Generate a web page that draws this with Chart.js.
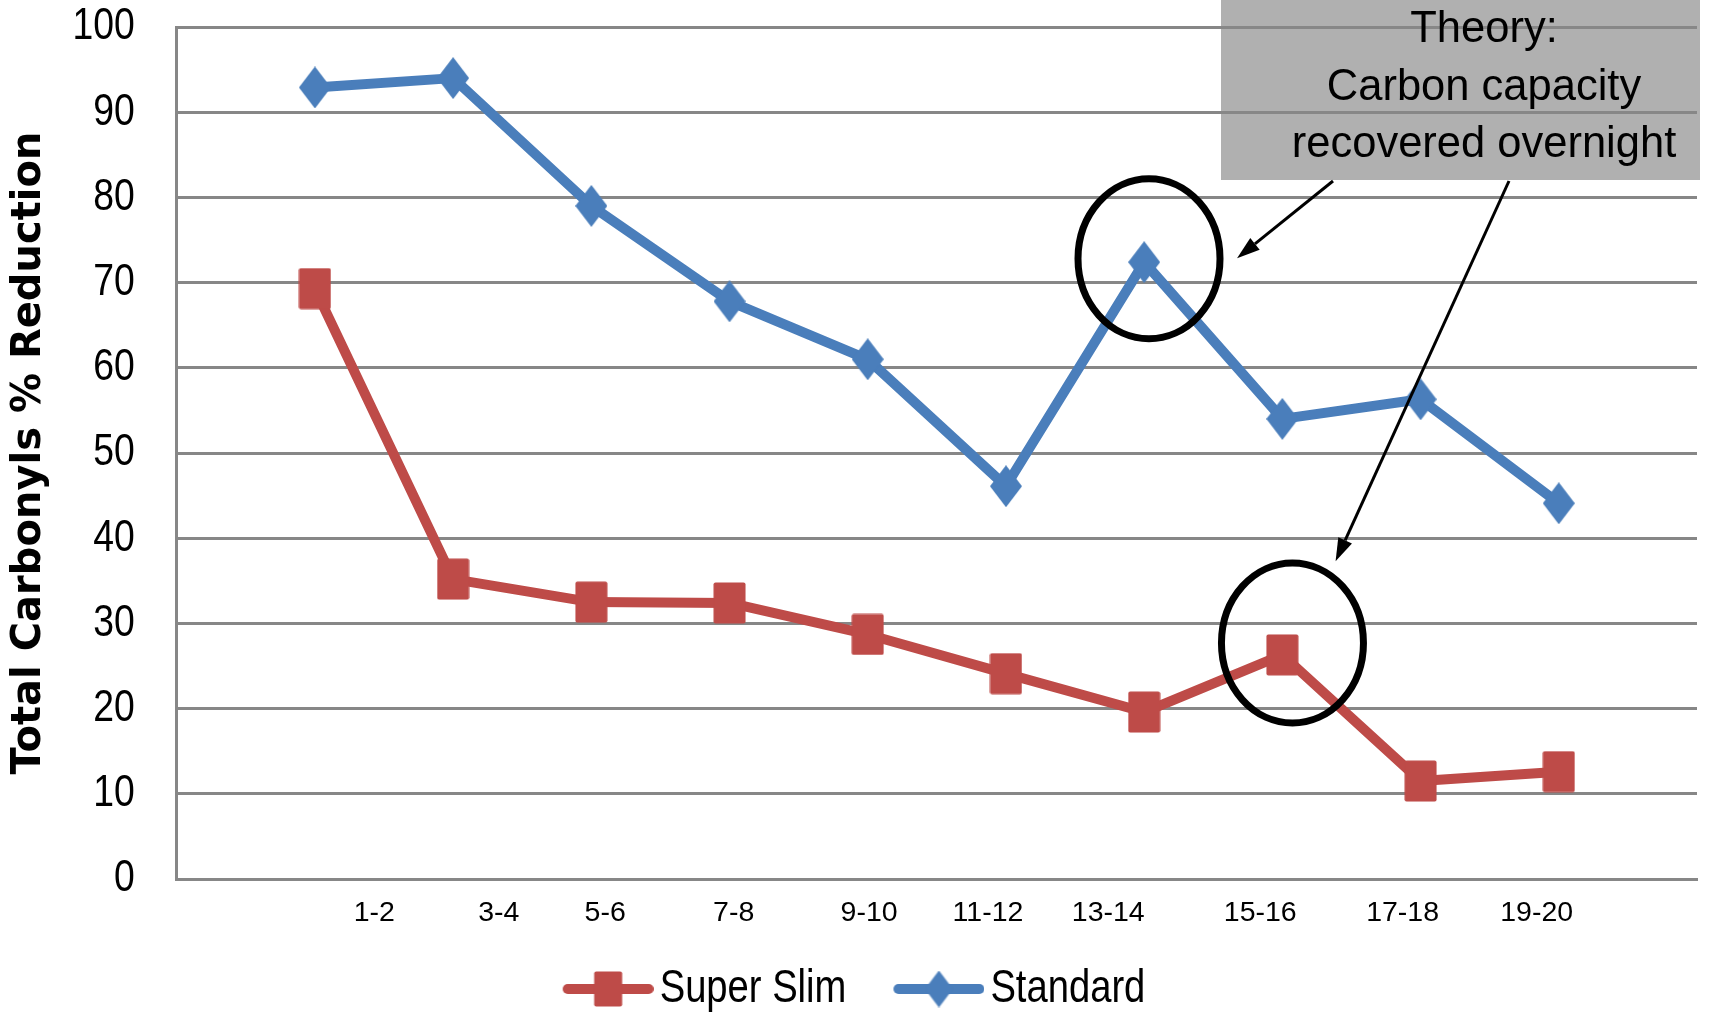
<!DOCTYPE html>
<html>
<head>
<meta charset="utf-8">
<title>Total Carbonyls % Reduction</title>
<script src="https://cdn.jsdelivr.net/npm/chart.js@4.4.1/dist/chart.umd.min.js"></script>
<style>
  html, body { margin: 0; padding: 0; background: #ffffff; overflow: hidden; }
  #wrap { width: 1711px; height: 1015px; position: relative; overflow: hidden; }
  #chart { display: block; }
</style>
</head>
<body>
<div id="wrap"><canvas id="chart" width="1711" height="1022"></canvas></div>
<script>
// Puff periods (x categories)
const periods = ['1-2', '3-4', '5-6', '7-8', '9-10', '11-12', '13-14', '15-16', '17-18', '19-20'];

// Total carbonyls % reduction per puff period
const superSlim = [69.3, 35.2, 32.5, 32.4, 28.7, 24.1, 19.6, 26.3, 11.5, 12.6];
const standard  = [92.9, 94.0, 79.0, 67.8, 61.0, 46.1, 72.4, 54.0, 56.3, 44.1];

// Y axis tick values
const yTickValues = [0, 10, 20, 30, 40, 50, 60, 70, 80, 90, 100];

// Where the period captions sit along the x axis (in category units)
const periodCaptionPositions = [1.43, 2.33, 3.10, 4.03, 5.01, 5.87, 6.74, 7.84, 8.87, 9.84];

// Callout text
const calloutLines = ['Theory:', 'Carbon capacity', 'recovered overnight'];

const RED = '#BE4B48';
const BLUE = '#4A7EBB';
const GRID = '#878787';
const NARROW = "'Liberation Sans Narrow', 'Liberation Sans', sans-serif";
const SANS = "'Liberation Sans', Arial, sans-serif";

// The category axis has an empty slot at each end
const axisLabels = [''].concat(periods, ['']);
const pad = arr => [null].concat(arr, [null]);

// Narrow face: if it is not installed, condense the regular face instead
const NARROW_SQUEEZE = (() => {
  const g = document.createElement('canvas').getContext('2d');
  g.font = '46px ' + NARROW;
  const a = g.measureText('Super Slim').width;
  g.font = '46px ' + SANS;
  const b = g.measureText('Super Slim').width;
  return Math.abs(a - b) < 0.5 ? 0.83 : 1;
})();

const canvas = document.getElementById('chart');
const ctx2d = canvas.getContext('2d');
(function condenseNarrowText(ctx) {
  const proto = CanvasRenderingContext2D.prototype;
  const baseFill = proto.fillText, baseMeasure = proto.measureText;
  const isNarrow = c => NARROW_SQUEEZE !== 1 && c.font.indexOf('Narrow') !== -1;
  ctx.fillText = function (text, x, y, maxWidth) {
    if (isNarrow(this)) {
      let w = baseMeasure.call(this, text).width * NARROW_SQUEEZE;
      if (maxWidth !== undefined) w = Math.min(w, maxWidth);
      return baseFill.call(this, text, x, y, w);
    }
    return maxWidth === undefined ? baseFill.call(this, text, x, y) : baseFill.call(this, text, x, y, maxWidth);
  };
  ctx.measureText = function (text) {
    const m = baseMeasure.call(this, text);
    if (!isNarrow(this)) return m;
    return {
      width: m.width * NARROW_SQUEEZE,
      actualBoundingBoxAscent: m.actualBoundingBoxAscent,
      actualBoundingBoxDescent: m.actualBoundingBoxDescent,
      actualBoundingBoxLeft: m.actualBoundingBoxLeft * NARROW_SQUEEZE,
      actualBoundingBoxRight: m.actualBoundingBoxRight * NARROW_SQUEEZE
    };
  };
})(ctx2d);

function squareMarker(w, h, color) {
  const c = document.createElement('canvas');
  c.width = w; c.height = h;
  const g = c.getContext('2d');
  g.fillStyle = color;
  g.beginPath();
  if (g.roundRect) g.roundRect(0.5, 0.5, w - 1, h - 1, 2); else g.rect(0.5, 0.5, w - 1, h - 1);
  g.fill();
  return c;
}
function diamondMarker(w, h, color) {
  const c = document.createElement('canvas');
  c.width = w; c.height = h;
  const g = c.getContext('2d');
  g.fillStyle = color;
  g.beginPath();
  g.moveTo(w / 2, 0); g.lineTo(w, h / 2); g.lineTo(w / 2, h); g.lineTo(0, h / 2);
  g.closePath();
  g.fill();
  return c;
}
// Legend swatch: a short line with the marker in its middle, right-aligned in the image
function legendSwatch(kind, color, imgW) {
  const lineLen = 91, h = 42;
  const c = document.createElement('canvas');
  c.width = imgW; c.height = h;
  const g = c.getContext('2d');
  const x1 = imgW - lineLen + 5, x2 = imgW - 5, cy = h / 2;
  g.strokeStyle = color; g.lineWidth = 10; g.lineCap = 'round';
  g.beginPath(); g.moveTo(x1, cy); g.lineTo(x2, cy); g.stroke();
  const m = kind === 'square' ? squareMarker(29, 36, color) : diamondMarker(28, 37, color);
  g.drawImage(m, imgW - lineLen / 2 - m.width / 2, cy - m.height / 2);
  return c;
}

const LEGEND_BOX = 85;
const swatches = [legendSwatch('square', RED, LEGEND_BOX + 34), legendSwatch('diamond', BLUE, LEGEND_BOX + 34)];

// Callout: grey note box, two ellipses and two arrows
const callout = {
  id: 'callout',
  beforeDraw(chart) {
    const ctx = chart.ctx;
    ctx.save();
    ctx.fillStyle = '#ffffff';
    ctx.fillRect(0, 0, chart.width, chart.height);
    ctx.fillStyle = '#B0B0B0';
    ctx.fillRect(1221, 0, 479, 180);
    ctx.restore();
  },
  afterDraw(chart) {
    const ctx = chart.ctx;
    const xs = chart.scales.x, ys = chart.scales.y;
    ctx.save();
    ctx.fillStyle = '#000';
    ctx.font = '43.5px ' + SANS;
    ctx.textAlign = 'center';
    ctx.textBaseline = 'alphabetic';
    const baselines = [42, 100, 157];
    calloutLines.forEach((t, i) => ctx.fillText(t, 1484, baselines[i]));

    // ellipses around the overnight recoveries
    ctx.strokeStyle = '#000';
    ctx.lineWidth = 7;
    [[7.035, 72.8], [8.073, 27.7]].forEach(([cx, cy]) => {
      ctx.beginPath();
      ctx.ellipse(xs.getPixelForValue(cx), ys.getPixelForValue(cy), 71, 80, 0, 0, Math.PI * 2);
      ctx.stroke();
    });

    // arrows from the note box
    const arrow = (x0, y0, x1, y1) => {
      const a = Math.atan2(y1 - y0, x1 - x0);
      const L = 23, W = 7.5;
      const bx = x1 - L * Math.cos(a), by = y1 - L * Math.sin(a);
      ctx.lineWidth = 3;
      ctx.beginPath(); ctx.moveTo(x0, y0); ctx.lineTo(bx, by); ctx.stroke();
      ctx.beginPath();
      ctx.moveTo(x1, y1);
      ctx.lineTo(bx + W * Math.sin(a), by - W * Math.cos(a));
      ctx.lineTo(bx - W * Math.sin(a), by + W * Math.cos(a));
      ctx.closePath(); ctx.fill();
    };
    arrow(1333, 181, xs.getPixelForValue(7.672), ys.getPixelForValue(72.86));
    arrow(1509, 181, xs.getPixelForValue(8.385), ys.getPixelForValue(37.3));
    ctx.restore();
  }
};

new Chart(ctx2d, {
  type: 'line',
  data: {
    labels: axisLabels,
    datasets: [
      {
        label: 'Super Slim',
        data: pad(superSlim),
        borderColor: RED,
        backgroundColor: RED,
        borderWidth: 10,
        tension: 0,
        borderJoinStyle: 'round',
        pointStyle: squareMarker(33, 42, RED),
        pointRadius: 16,
        pointHoverRadius: 16
      },
      {
        label: 'Standard',
        data: pad(standard),
        borderColor: BLUE,
        backgroundColor: BLUE,
        borderWidth: 10,
        tension: 0,
        borderJoinStyle: 'round',
        pointStyle: diamondMarker(32, 42, BLUE),
        pointRadius: 16,
        pointHoverRadius: 16
      }
    ]
  },
  options: {
    responsive: false,
    animation: false,
    devicePixelRatio: 1,
    layout: { autoPadding: false, padding: { top: 26.7, right: 14, bottom: 0, left: 0 } },
    plugins: {
      tooltip: { enabled: false },
      legend: {
        position: 'bottom',
        labels: {
          usePointStyle: true,
          pointStyleWidth: LEGEND_BOX,
          padding: 36,
          color: '#000',
          font: { family: NARROW, size: 46 },
          generateLabels: chart => chart.data.datasets.map((ds, i) => ({
            text: ds.label,
            datasetIndex: i,
            pointStyle: swatches[i],
            fillStyle: ds.borderColor,
            strokeStyle: ds.borderColor,
            lineWidth: 0,
            fontColor: '#000',
            hidden: false
          }))
        }
      }
    },
    scales: {
      x: {
        type: 'category',
        offset: false,
        grid: { display: false, drawTicks: false },
        border: { display: true, color: GRID, width: 3 },
        ticks: { display: false }
      },
      y: {
        min: 0,
        max: 100,
        afterBuildTicks: axis => { axis.ticks = yTickValues.map(v => ({ value: v })); },
        grid: { color: GRID, lineWidth: 3, drawTicks: true, tickLength: 42, tickColor: 'rgba(0,0,0,0)' },
        border: { display: true, color: GRID, width: 3 },
        ticks: { color: '#000', padding: 0, font: { family: NARROW, size: 45 } },
        title: {
          display: true,
          text: 'Total Carbonyls % Reduction',
          color: '#000',
          font: { family: "'DejaVu Sans', Verdana, sans-serif", size: 40, weight: 'bold' },
          padding: { top: 6, bottom: 0 }
        },
        afterFit: axis => { axis.width = 176.7; }
      },
      xl: {
        type: 'linear',
        position: 'bottom',
        min: 0,
        max: 11,
        grid: { display: false, drawTicks: false },
        border: { display: false },
        afterBuildTicks: axis => { axis.ticks = periodCaptionPositions.map(v => ({ value: v })); },
        ticks: {
          autoSkip: false,
          maxRotation: 0,
          minRotation: 0,
          padding: 20,
          color: '#000',
          font: { family: SANS, size: 28.5, lineHeight: 1 },
          callback: (v, i) => periods[i]
        },
        afterFit: axis => { axis.height = 51; }
      }
    }
  },
  plugins: [callout]
});
</script>
</body>
</html>
